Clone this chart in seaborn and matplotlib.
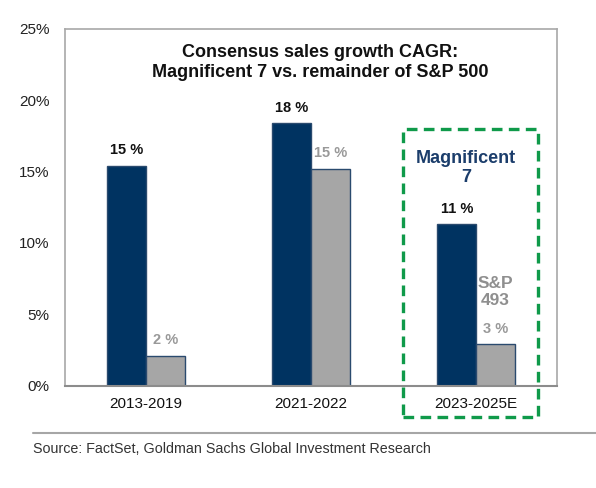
import pandas as pd
import matplotlib
matplotlib.use("Agg")
import matplotlib.pyplot as plt
from matplotlib.patches import Rectangle
from matplotlib.lines import Line2D
import seaborn as sns

# data
periods = ["2013-2019", "2021-2022", "2023-2025E"]
mag7 = [15.4, 18.4, 11.3]
sp493 = [2.1, 15.2, 2.9]
mag7_labels = ["15 %", "18 %", "11 %"]
sp493_labels = ["2 %", "15 %", "3 %"]
series_names = ["Magnificent 7", "S&P 493"]
yticks = [0, 5, 10, 15, 20, 25]

NAVY = "#003361"
GRAY = "#a6a6a6"
GREEN = "#0f9a4a"

df = pd.DataFrame({
    "period": periods * 2,
    "value": mag7 + sp493,
    "series": [series_names[0]] * 3 + [series_names[1]] * 3,
})

sns.set_style("white")
plt.rcParams["font.family"] = ["Liberation Sans", "DejaVu Sans"]

fig = plt.figure(figsize=(5.96, 4.88), dpi=100)
ax = fig.add_axes([0.109, 0.210, 0.826, 0.731])

sns.barplot(data=df, x="period", y="value", hue="series",
            palette=[NAVY, GRAY], width=0.47, saturation=1,
            edgecolor="#2a4a6e", linewidth=1, legend=False, ax=ax)

ax.set_xlim(-0.49, 2.49)
ax.set_ylim(0, 25)
ax.set_yticks(yticks)
ax.set_yticklabels([f"{v}%" for v in yticks])
ax.set_xlabel("")
ax.set_ylabel("")
ax.tick_params(axis="y", length=0, pad=11, labelsize=11, labelcolor="#222222")
ax.tick_params(axis="x", length=0, pad=8, labelsize=11, labelcolor="#111111")

for side in ["left", "top", "right"]:
    ax.spines[side].set_color("#a8a8a8")
    ax.spines[side].set_linewidth(1.2)
ax.spines["bottom"].set_color("#8c8c8c")
ax.spines["bottom"].set_linewidth(1.5)

ax.bar_label(ax.containers[0], labels=mag7_labels, padding=6,
             fontsize=10.5, fontweight="bold", color="#111111")
ax.bar_label(ax.containers[1], labels=sp493_labels, padding=6,
             fontsize=10.5, fontweight="bold", color="#999999")

# title inside the plot frame
fig.text(320 / 596, 1 - 62.5 / 488,
         "Consensus sales growth CAGR:\nMagnificent 7 vs. remainder of S&P 500",
         ha="center", va="center", fontsize=13, fontweight="bold",
         color="#111111", linespacing=1.2)

# highlighted box around the estimate period
fig.patches.append(Rectangle((403 / 596, 1 - 417 / 488), 135 / 596, 288 / 488,
                             transform=fig.transFigure, fill=False,
                             edgecolor=GREEN, linewidth=2.4,
                             linestyle=(0, (3.2, 1.9))))
fig.text(466 / 596, 1 - 168 / 488, "Magnificent\n7", ha="center", va="center",
         fontsize=13, fontweight="bold", color="#1b3d6b", linespacing=1.1)
fig.text(495 / 596, 1 - 292 / 488, "S&P\n493", ha="center", va="center",
         fontsize=12.5, fontweight="bold", color="#8f8f8f", linespacing=1.2)

# source line
fig.lines.append(Line2D([33 / 596, 1.0], [1 - 433 / 488] * 2,
                        transform=fig.transFigure, color="#a6a6a6", linewidth=1.5))
fig.text(33 / 596, 1 - 449 / 488,
         "Source: FactSet, Goldman Sachs Global Investment Research",
         ha="left", va="center", fontsize=10.3, color="#333333")

fig.savefig("out.png", dpi=100)
